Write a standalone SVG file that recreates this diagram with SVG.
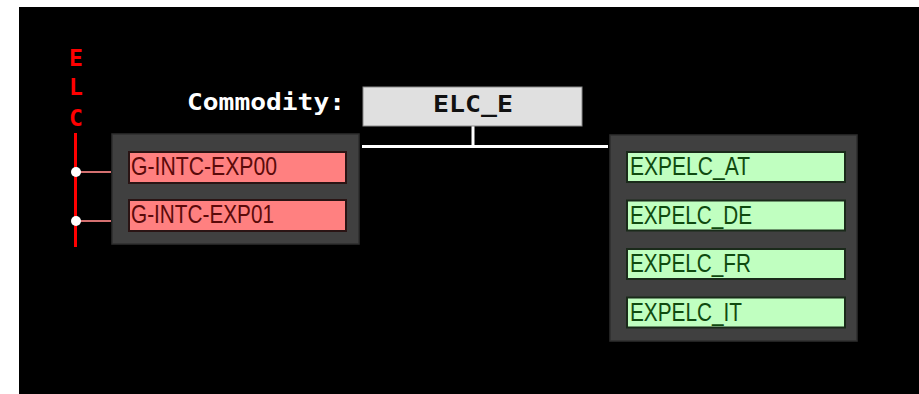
<svg xmlns="http://www.w3.org/2000/svg" width="919" height="394" viewBox="0 0 919 394">
<style>
.box{fill:#404040;stroke:#2e2e2e;stroke-width:1.5}
.pr{fill:#ff8080;stroke:#2a1414;stroke-width:2}
.pg{fill:#c0ffc0;stroke:#1a2a1a;stroke-width:2}
.tr{font-family:"Liberation Sans",Arial,sans-serif;font-size:25px;fill:#5a0a0a}
.tg{font-family:"Liberation Sans",Arial,sans-serif;font-size:25px;fill:#0f4a0f}
.mono{font-family:"DejaVu Sans Mono",monospace;font-weight:bold;font-size:23px}
.con{stroke:#fff;stroke-width:3;fill:none}
.lk{stroke:#d47070;stroke-width:2}
</style>
<rect x="19" y="7" width="900" height="387" fill="#000"/>
<g id="elc-bus">
<text class="mono" x="76" y="66" fill="#ff0000" text-anchor="middle" font-size="25">E</text>
<text class="mono" x="76" y="95" fill="#ff0000" text-anchor="middle" font-size="25">L</text>
<text class="mono" x="76" y="126" fill="#ff0000" text-anchor="middle" font-size="25">C</text>
<line x1="75.5" y1="133" x2="75.5" y2="247" stroke="#ff0000" stroke-width="3"/>
</g>
<g id="connectors">
<line class="lk" x1="80" y1="172" x2="111" y2="172"/>
<line class="lk" x1="80" y1="221" x2="111" y2="221"/>
<circle cx="76" cy="172" r="5" fill="#fff"/>
<circle cx="76" cy="221" r="5" fill="#fff"/>
<polyline class="con" points="473,126 473,146.5"/>
<line class="con" x1="362" y1="146.5" x2="608" y2="146.5"/>
</g>
<g id="commodity-label">
<text class="mono" x="187" y="110" fill="#fff" textLength="158" lengthAdjust="spacingAndGlyphs">Commodity:</text>
</g>
<g id="commodity">
<rect x="363" y="87" width="219" height="39" fill="#e0e0e0" stroke="#8a8a8a" stroke-width="1"/>
<text class="mono" x="433" y="112" fill="#111" textLength="80" lengthAdjust="spacingAndGlyphs">ELC_E</text>
</g>
<g id="inputs">
<rect class="box" x="112" y="134" width="247" height="110"/>
<g id="G-INTC-EXP00">
<rect class="pr" x="129" y="152" width="217" height="31"/>
<text class="tr" x="131" y="175" textLength="146" lengthAdjust="spacingAndGlyphs">G-INTC-EXP00</text>
</g>
<g id="G-INTC-EXP01">
<rect class="pr" x="129" y="200" width="217" height="31"/>
<text class="tr" x="131" y="223" textLength="143" lengthAdjust="spacingAndGlyphs">G-INTC-EXP01</text>
</g>
</g>
<g id="outputs">
<rect class="box" x="610" y="135" width="247" height="206"/>
<g id="EXPELC_AT">
<rect class="pg" x="627" y="152" width="218" height="30"/>
<text class="tg" x="630" y="175" textLength="120" lengthAdjust="spacingAndGlyphs">EXPELC_AT</text>
</g>
<g id="EXPELC_DE">
<rect class="pg" x="627" y="200.5" width="218" height="30"/>
<text class="tg" x="630" y="223.5" textLength="122" lengthAdjust="spacingAndGlyphs">EXPELC_DE</text>
</g>
<g id="EXPELC_FR">
<rect class="pg" x="627" y="249" width="218" height="30"/>
<text class="tg" x="630" y="272" textLength="121" lengthAdjust="spacingAndGlyphs">EXPELC_FR</text>
</g>
<g id="EXPELC_IT">
<rect class="pg" x="627" y="297.5" width="218" height="30"/>
<text class="tg" x="630" y="320.5" textLength="112" lengthAdjust="spacingAndGlyphs">EXPELC_IT</text>
</g>
</g>
</svg>
